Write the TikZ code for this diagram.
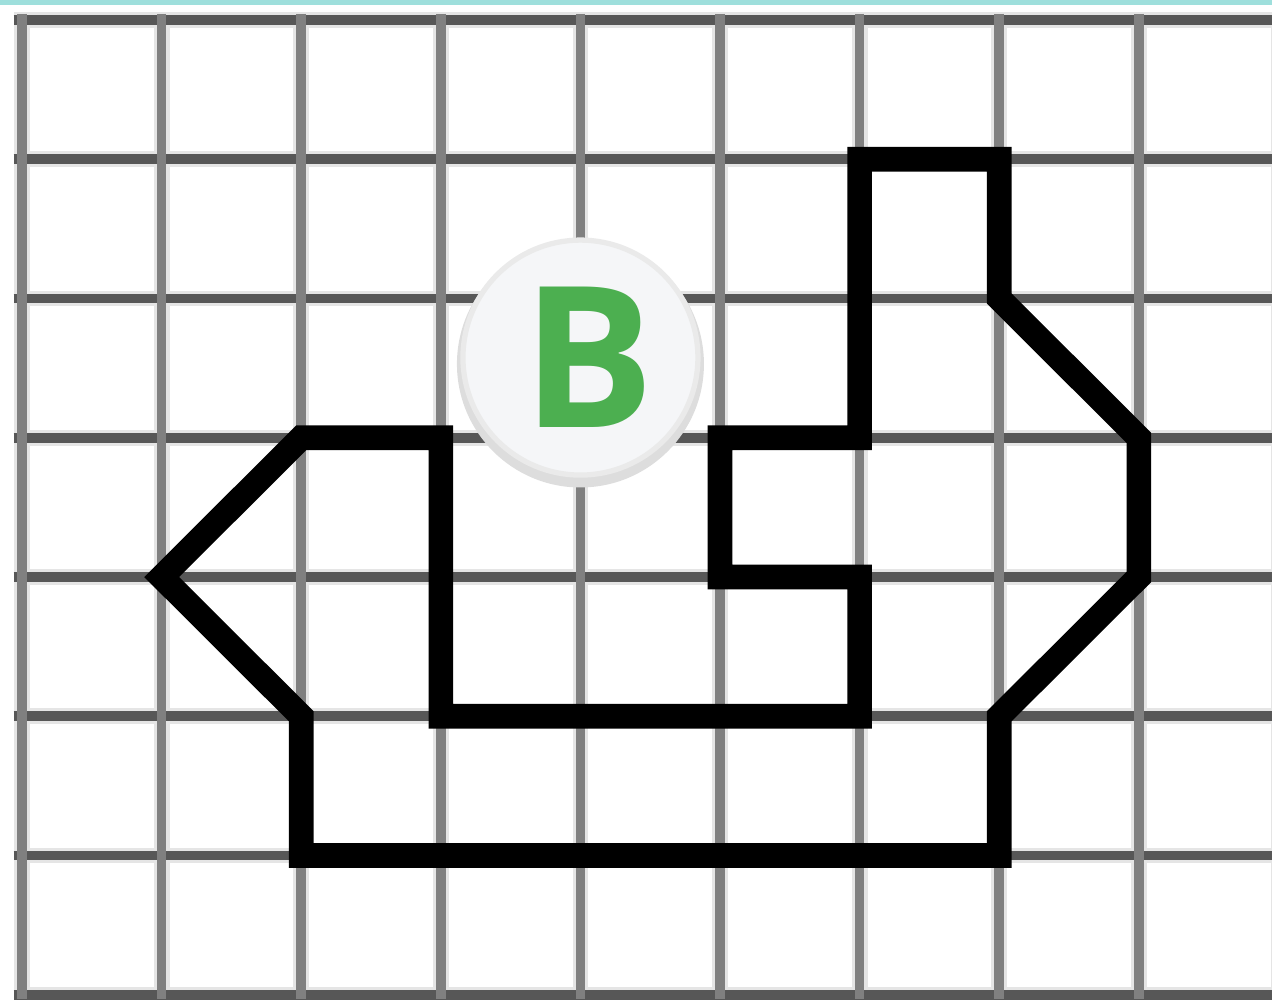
\documentclass[tikz,border=0pt]{standalone}
\usepackage{fontspec}
\newfontfamily\badgefont{Open Sans}
\definecolor{topbar}{RGB}{158,223,220}
\definecolor{badgegreen}{RGB}{76,175,80}
\definecolor{badgeface}{RGB}{245,246,248}
\definecolor{badgering}{RGB}{234,234,234}
\definecolor{badgeshadow}{RGB}{221,221,221}
\tikzset{
    halo/.style={line width=9pt, draw=black!10},
    hline/.style={line width=5.5pt, draw=black!66},
    vline/.style={line width=5.5pt, draw=black!50},
    outline/.style={line width=14pt, draw=black, line join=miter},
}

\begin{document}
\begin{tikzpicture}[x=2.792cm, y=-2.785cm]
    \useasboundingbox (-0.158,-0.144) rectangle (8.954,7.031);
    \fill[topbar] (-0.158,-0.144) rectangle (8.954,-0.108);

    % grid
    \foreach \j in {0,...,7}
        \draw[halo] (-0.06,\j) -- (8.954,\j);
    \foreach \i in {0,...,9}
        \draw[halo] (\i,-0.045) -- (\i,7.031);
    \foreach \j in {0,...,7}
        \draw[hline] (-0.06,\j) -- (8.954,\j);
    \foreach \i in {0,...,9}
        \draw[vline] (\i,-0.045) -- (\i,7.031);

    % shape
    \draw[outline] (2,3) -- (3,3) -- (3,5) -- (6,5) -- (6,4) -- (5,4) -- (5,3)
        -- (6,3) -- (6,1) -- (7,1) -- (7,2) -- (8,3) -- (8,4) -- (7,5) -- (7,6)
        -- (2,6) -- (2,5) -- (1,4) -- cycle;

    % badge
    \fill[badgeshadow] (4,2.47) circle (2.47cm);
    \node[circle, fill=badgeface, draw=badgering, line width=3pt,
          minimum size=4.7cm, inner sep=0pt] (badge) at (4,2.424) {};
    \node[text=badgegreen, inner sep=0pt] (badgeletter) at (4.06,2.42)
        {\badgefont\bfseries\fontsize{112}{112}\selectfont B};
\end{tikzpicture}
\end{document}
